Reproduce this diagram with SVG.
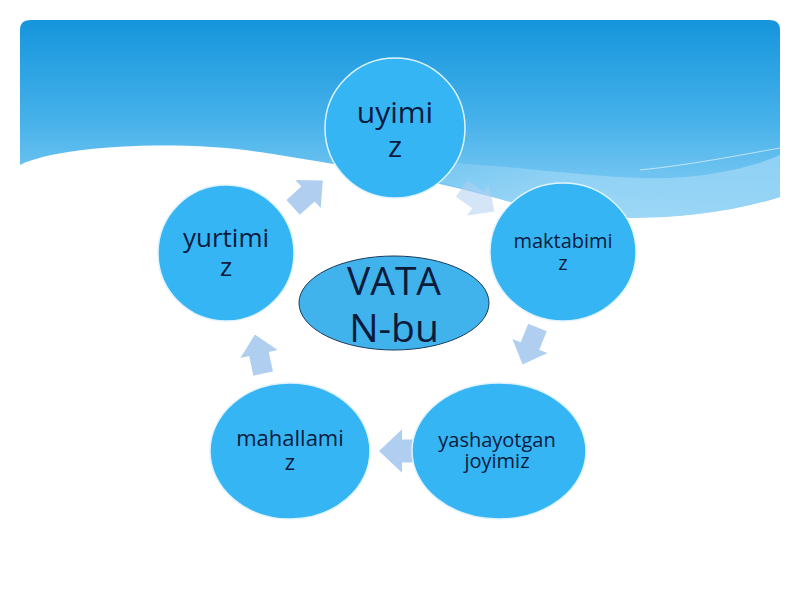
<svg xmlns="http://www.w3.org/2000/svg" width="800" height="600" viewBox="0 0 800 600">
  <defs>
    <linearGradient id="sky" x1="0" y1="0" x2="0" y2="1">
      <stop offset="0" stop-color="#1595dc"/>
      <stop offset="0.5" stop-color="#45b1ea"/>
      <stop offset="1" stop-color="#8fd1f5"/>
    </linearGradient>
    <linearGradient id="band" x1="0" y1="0" x2="1" y2="0">
      <stop offset="0" stop-color="#bfe6fa" stop-opacity="0"/>
      <stop offset="0.5" stop-color="#a6dbf7" stop-opacity="0.6"/>
      <stop offset="1" stop-color="#9ad6f6" stop-opacity="0.8"/>
    </linearGradient>
    <polygon id="arrow" points="-20,-10 0,-10 0,-19 20,0 0,19 0,10 -20,10"/>
  </defs>
  <style>
    .node { fill: #36b5f5; stroke: #dff3ff; stroke-width: 1.5; }
    .center { fill: #40b3ec; stroke: #1b3a5e; stroke-width: 1; }
    .lbl { font-family: "Open Sans", "Noto Sans", sans-serif; fill: #0c1a3c; text-anchor: middle; }
    .arr { fill: #b0cff0; }
  </style>
  <rect width="800" height="600" fill="#ffffff"/>
  <!-- sky -->
  <path d="M20,30 Q20,20 30,20 L770,20 Q780,20 780,30 L780,197 C690,225 580,222 520,205 C440,180 340,165 260,152 C180,140 60,145 20,165 Z" fill="url(#sky)"/>
  <path d="M380,160 C470,160 560,175 640,178 C700,180 750,168 780,155 L780,197 C690,225 580,222 520,205 C450,183 410,175 380,168 Z" fill="url(#band)"/>
  <path d="M640,170 C690,165 740,155 780,148" fill="none" stroke="#d6effc" stroke-width="1" opacity="0.8"/>

  <g id="connectors">
    <use href="#arrow" class="arr" transform="translate(308,194) rotate(-42)"/>
    <use href="#arrow" class="arr" transform="translate(478,200) rotate(35)" opacity="0.55"/>
    <use href="#arrow" class="arr" transform="translate(530,346) rotate(112)"/>
    <use href="#arrow" class="arr" transform="translate(402,451) rotate(180) scale(1.15)"/>
    <use href="#arrow" class="arr" transform="translate(259,354) rotate(-102)"/>
  </g>

  <g id="node-uyimiz">
    <ellipse class="node" cx="395" cy="128" rx="70" ry="70"/>
    <text class="lbl" font-size="30"><tspan x="395" y="123">uyimi</tspan><tspan x="395" y="157">z</tspan></text>
  </g>
  <g id="node-maktabimiz">
    <ellipse class="node" cx="563" cy="252" rx="73" ry="69"/>
    <text class="lbl" font-size="20"><tspan x="563" y="248">maktabimi</tspan><tspan x="563" y="270">z</tspan></text>
  </g>
  <g id="node-yashayotgan">
    <ellipse class="node" cx="499" cy="451" rx="87" ry="68"/>
    <text class="lbl" font-size="20"><tspan x="497" y="447">yashayotgan</tspan><tspan x="497" y="468">joyimiz</tspan></text>
  </g>
  <g id="node-mahallamiz">
    <ellipse class="node" cx="290" cy="451" rx="80" ry="68"/>
    <text class="lbl" font-size="22"><tspan x="290" y="446">mahallami</tspan><tspan x="290" y="470">z</tspan></text>
  </g>
  <g id="node-yurtimiz">
    <ellipse class="node" cx="226" cy="253" rx="68" ry="68"/>
    <text class="lbl" font-size="26"><tspan x="226" y="247">yurtimi</tspan><tspan x="226" y="276">z</tspan></text>
  </g>
  <g id="node-vatan">
    <ellipse class="center" cx="394" cy="303" rx="95" ry="47"/>
    <text class="lbl" font-size="39"><tspan x="394" y="295">VATA</tspan><tspan x="394" y="342">N-bu</tspan></text>
  </g>
</svg>
